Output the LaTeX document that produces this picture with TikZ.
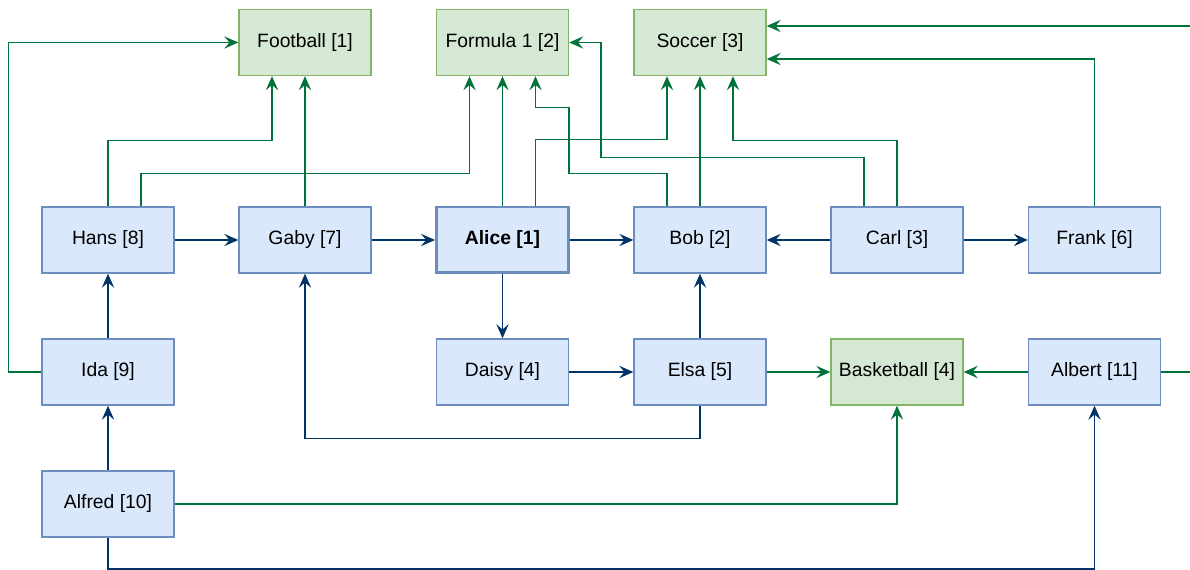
\documentclass[tikz,border=0pt]{standalone}
\usepackage{fontspec}
\setmainfont{Liberation Sans}
\usetikzlibrary{arrows.meta}
\definecolor{personfill}{HTML}{DAE8FC}
\definecolor{persondraw}{HTML}{6C8EBF}
\definecolor{sportfill}{HTML}{D5E8D4}
\definecolor{sportdraw}{HTML}{82B366}
\definecolor{knowscolor}{HTML}{003366}
\definecolor{likescolor}{HTML}{00733A}
\tikzset{
  person/.style = {draw = persondraw, fill = personfill, line width = 0.8pt, minimum width = 2.64cm, minimum height = 1.32cm, inner sep = 0pt, font = \fontsize{11}{13}\selectfont},
  sport/.style = {person, draw = sportdraw, fill = sportfill},
  knows/.style = {draw = knowscolor, line width = 0.9pt, -{Stealth[length = 8pt, width = 7pt, inset = 3pt]}},
  likes/.style = {knows, draw = likescolor}
}
\begin{document}
\begin{tikzpicture}[x = 0.02cm, y = -0.02cm]
\pgfmathsetlengthmacro\q{0.66cm};
\pgfmathsetlengthmacro\qy{0.33cm};
\useasboundingbox (0,0) rectangle (1190,570);
\node[sport] (football) at (305,42.5) {Football [1]};
\node[sport] (formula) at (502.5,42.5) {Formula 1 [2]};
\node[sport] (soccer) at (700,42.5) {Soccer [3]};
\node[person] (hans) at (108,240) {Hans [8]};
\node[person] (gaby) at (305,240) {Gaby [7]};
\node[person, line width = 1.7pt, font = \fontsize{11}{13}\selectfont\bfseries] (alice) at (502.5,240) {Alice [1]};
\node[person] (bob) at (700,240) {Bob [2]};
\node[person] (carl) at (897,240) {Carl [3]};
\node[person] (frank) at (1094.5,240) {Frank [6]};
\node[person] (ida) at (108,372) {Ida [9]};
\node[person] (daisy) at (502.5,372) {Daisy [4]};
\node[person] (elsa) at (700,372) {Elsa [5]};
\node[sport] (basketball) at (897,372) {Basketball [4]};
\node[person] (albert) at (1094.5,372) {Albert [11]};
\node[person] (alfred) at (108,504) {Alfred [10]};
\draw[knows] (hans) -- (gaby);
\draw[knows] (gaby) -- (alice);
\draw[knows] (alice) -- (bob);
\draw[knows] (carl) -- (bob);
\draw[knows] (carl) -- (frank);
\draw[knows] (alice) -- (daisy);
\draw[knows] (daisy) -- (elsa);
\draw[knows] (elsa) -- (bob);
\draw[knows] (ida) -- (hans);
\draw[knows] (alfred) -- (ida);
\draw[knows] (elsa.south) -- ++(0,33) -| (gaby.south);
\draw[knows] (alfred.south) -- ++(0,31.5) -| (albert.south);
\draw[likes] (ida.west) -- ++(-33,0) |- (football.west);
\draw[likes] (hans.north) -- ++(0,-66) -| ([xshift=-\q]football.south);
\draw[likes] ([xshift=\q]hans.north) -- ++(0,-33) -| ([xshift=-\q]formula.south);
\draw[likes] (gaby) -- (football);
\draw[likes] (alice) -- (formula);
\draw[likes] ([xshift=\q]alice.north) -- ++(0,-66) -| ([xshift=-\q]soccer.south);
\draw[likes] ([xshift=-\q]bob.north) -- ++(0,-33) -| ++(-98,-66) -| ([xshift=\q]formula.south);
\draw[likes] ([xshift=-\q]carl.north) -- ++(0,-49) -| ([xshift=0.64cm]formula.east) -- (formula.east);
\draw[likes] (bob) -- (soccer);
\draw[likes] (carl.north) -- ++(0,-66) -| ([xshift=\q]soccer.south);
\draw[likes] (frank.north) |- ([yshift=-\qy]soccer.east);
\draw[likes] (albert.east) -- ++(40,0) |- ([yshift=\qy]soccer.east);
\draw[likes] (elsa) -- (basketball);
\draw[likes] (albert) -- (basketball);
\draw[likes] (alfred.east) -| (basketball.south);
\end{tikzpicture}
\end{document}
